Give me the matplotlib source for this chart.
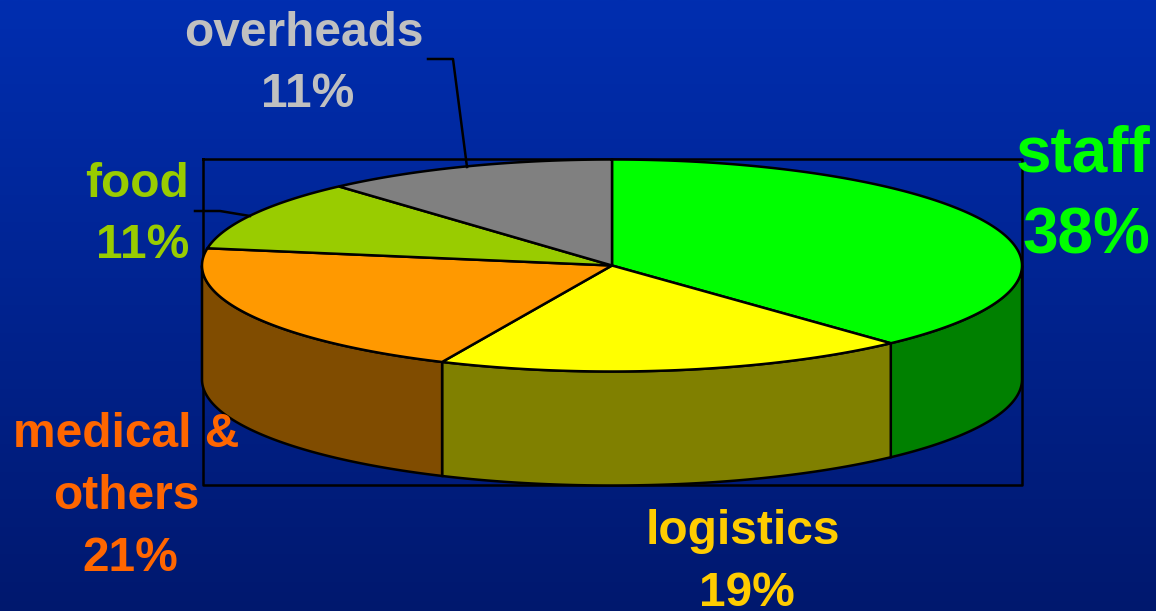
# pseudo 3D pie, drawn by hand as matplotlib has no such chart
import numpy as np
import matplotlib
matplotlib.use("Agg")
import matplotlib.pyplot as plt
from matplotlib.patches import Polygon

# ------------------------------
# Data
categorias = ["staff", "logistics", "medical &\nothers", "food", "overheads"]
rotulos = [38, 19, 21, 11, 11]  # printed on the labels
fatias = [38.1, 18.7, 20.8, 10.8, 11.6]  # read from the slice edges
cores_topo = ["#00ff00", "#ffff00", "#ff9900", "#99cc00", "#808080"]
cores_lado = ["#008000", "#808000", "#804c00", "#4c6600", "#404040"]
cores_texto = ["#00ff00", "#ffcc00", "#ff6600", "#99cc00", "#c0c0c0"]

# ------------------------------
# Geometry in image pixels
W, H = 1156, 611
cx, cy = 612, 265.5
rx, ry = 410, 106
prof = 114
lw = 1.8

fig = plt.figure(figsize=(W / 100, H / 100), dpi=100)
ax = fig.add_axes([0, 0, 1, 1])
ax.set_xlim(0, W)
ax.set_ylim(H, 0)
ax.axis("off")
plt.rcParams["font.family"] = ["Liberation Sans", "DejaVu Sans"]

# Background gradient
grad = np.zeros((256, 1, 3))
t = np.linspace(0, 1, 256)
grad[:, 0, 0] = 0
grad[:, 0, 1] = (46 - 22 * t) / 255
grad[:, 0, 2] = (176 - 66 * t) / 255
ax.imshow(grad, extent=[0, W, H, 0], aspect="auto", zorder=0)

# Frame
ax.plot([203, 1022, 1022, 203, 203], [159, 159, 485, 485, 159], color="black", lw=lw, zorder=1)


def ponto(ang):
    # ang in degrees, clockwise from the top
    a = np.radians(ang)
    return cx + rx * np.sin(a), cy - ry * np.cos(a)


cortes = np.concatenate([[0], np.cumsum(fatias)]) * 3.6

# Sides: only the front half (90 to 270 degrees) is visible
for i in range(len(fatias)):
    a0 = max(cortes[i], 90)
    a1 = min(cortes[i + 1], 270)
    if a1 <= a0:
        continue
    angs = np.linspace(a0, a1, 120)
    x, y = ponto(angs)
    xs = np.concatenate([x, x[::-1]])
    ys = np.concatenate([y, y[::-1] + prof])
    ax.add_patch(Polygon(np.column_stack([xs, ys]), closed=True, facecolor=cores_lado[i],
                         edgecolor="black", lw=lw, zorder=2))

# Top slices
for i in range(len(fatias)):
    angs = np.linspace(cortes[i], cortes[i + 1], 200)
    x, y = ponto(angs)
    xs = np.concatenate([[cx], x])
    ys = np.concatenate([[cy], y])
    ax.add_patch(Polygon(np.column_stack([xs, ys]), closed=True, facecolor=cores_topo[i],
                         edgecolor="black", lw=lw, zorder=3))

# Leader lines
ax.plot([428, 453, 467], [59, 59, 167], color="black", lw=lw, zorder=4)
ax.plot([195, 220, 250], [211, 211, 216], color="black", lw=lw, zorder=4)

# Labels, one text per line, the percent line sits a bit to the right of the name
linhas_x = [[1150, 1150], [743, 746.5], [126, 126, 130], [189, 189], [303.5, 308]]
linhas_y = [[172, 253], [544, 606], [447, 509, 571], [197, 258], [46, 107]]
tamanhos = [46, 34.5, 34.5, 34.5, 34.5]
alinhamento = ["right", "center", "center", "right", "center"]
for i in range(len(rotulos)):
    linhas = categorias[i].split("\n") + [f"{rotulos[i]}%"]
    for j, linha in enumerate(linhas):
        ax.text(linhas_x[i][j], linhas_y[i][j], linha, color=cores_texto[i], fontsize=tamanhos[i],
                fontweight="bold", ha=alinhamento[i], va="baseline", zorder=5)

fig.savefig("out.png", dpi=100)
